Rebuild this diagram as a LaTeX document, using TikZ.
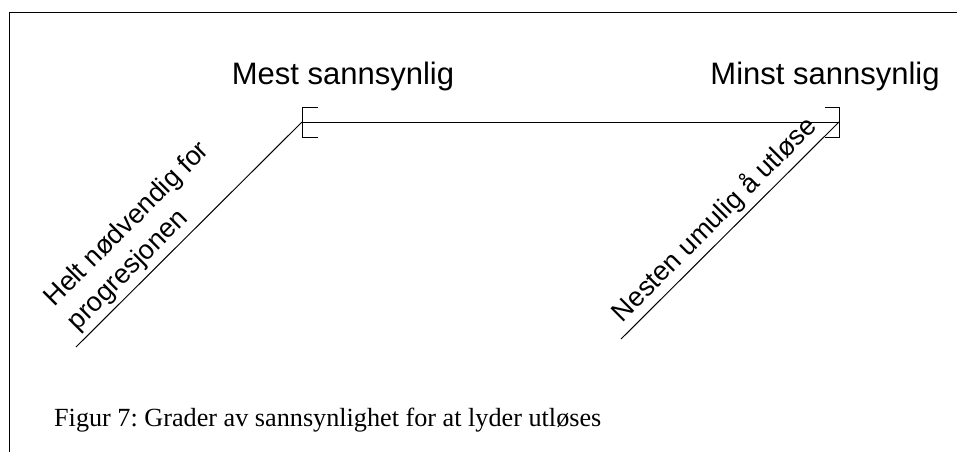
\documentclass[tikz,border=0pt]{standalone}
\usepackage{fontspec}
\setmainfont{Liberation Serif}
\setsansfont{Liberation Sans}
\usepackage{tikz}

\begin{document}
\begin{tikzpicture}[x=0.5pt, y=-0.5pt, line width=0.5pt,
        endtext/.style={anchor=base, font=\sffamily\fontsize{15.5}{18}\selectfont},
        slanttext/.style={rotate=45, anchor=south west, align=left, inner xsep=6pt, inner ysep=2pt,
            font=\sffamily\fontsize{13.5}{16.5}\selectfont}]
    \useasboundingbox (0,0) rectangle (957,452);
    % frame
    \draw (9,452) -- (9,12) -- (957,12);

    \coordinate (most) at (302,122);
    \coordinate (least) at (839,122);
    \coordinate (mostfoot) at (76,347);
    \coordinate (leastfoot) at (621,339);

    \node (mest) [endtext] at (343,84) {Mest sannsynlig};
    \node (minst) [endtext] at (825,84) {Minst sannsynlig};

    % scale with brackets at both ends
    \draw (most) -- (least);
    \draw (most) ++(16,-15) -- ++(-16,0) -- ++(0,30) -- ++(16,0);
    \draw (least) ++(-14,-15) -- ++(14,0) -- ++(0,30) -- ++(-14,0);

    \draw (mostfoot) -- (most);
    \draw (leastfoot) -- (least);
    \node (need) [slanttext] at (mostfoot) {Helt nødvendig for\\progresjonen};
    \node (never) [slanttext] at (leastfoot) {Nesten umulig å utløse};

    \node (caption) [anchor=base west, font=\frenchspacing\fontsize{13.1}{15}\selectfont] at (47,426)
        {Figur 7: Grader av sannsynlighet for at lyder utløses};
\end{tikzpicture}
\end{document}
